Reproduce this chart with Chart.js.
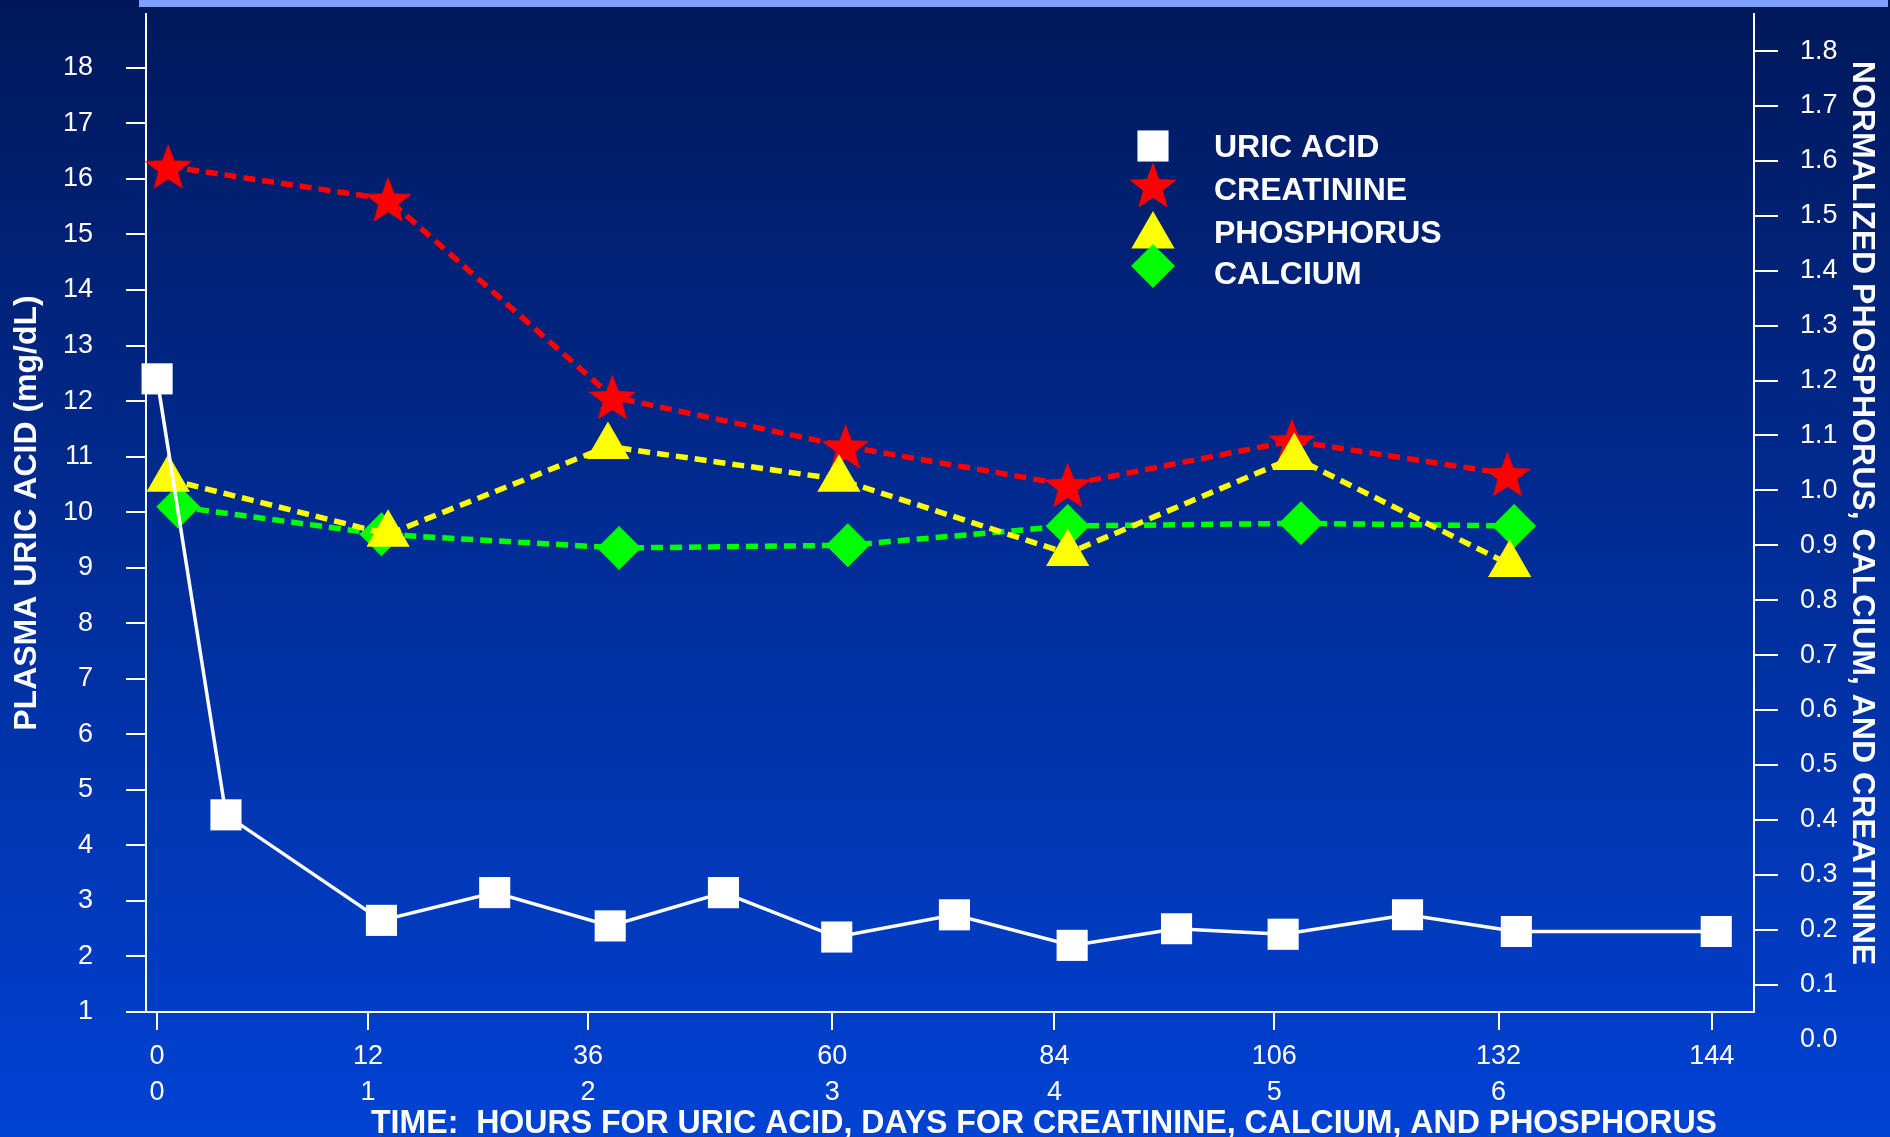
<!DOCTYPE html>
<html>
<head>
<meta charset="utf-8">
<title>Uric acid, creatinine, phosphorus and calcium over time</title>
<script src="https://cdn.jsdelivr.net/npm/chart.js@4.4.0/dist/chart.umd.min.js"></script>
<style>
    html, body { margin: 0; padding: 0; background: #00185a; }
    #wrap { width: 1890px; height: 1137px; }
</style>
</head>
<body>
<div id="wrap"><canvas id="chart" width="1890" height="1137"></canvas></div>
<script>
// x axis: tick slots, with hours on the first label row and days on the second
const xTickPos = [0, 0.95, 1.94, 3.04, 4.04, 5.03, 6.04, 7];
const hourLabels = ['0', '12', '36', '60', '84', '106', '132', '144'];
const dayLabels = ['0', '1', '2', '3', '4', '5', '6', ''];

const uricTicks = [1, 2, 3, 4, 5, 6, 7, 8, 9, 10, 11, 12, 13, 14, 15, 16, 17, 18];
const normTicks = [0, 0.1, 0.2, 0.3, 0.4, 0.5, 0.6, 0.7, 0.8, 0.9, 1.0, 1.1, 1.2, 1.3, 1.4, 1.5, 1.6, 1.7, 1.8];

// plasma uric acid, mg/dL (left axis)
const uricX = [0, 0.31, 1.01, 1.52, 2.04, 2.55, 3.06, 3.59, 4.12, 4.59, 5.07, 5.63, 6.12, 7.02];
const uricVals = [12.4, 4.55, 2.65, 3.15, 2.55, 3.15, 2.35, 2.75, 2.2, 2.5, 2.4, 2.75, 2.45, 2.45];

// normalized values (right axis)
const creatX = [0.05, 1.04, 2.05, 3.10, 4.10, 5.11, 6.08];
const creatVals = [1.59, 1.53, 1.17, 1.08, 1.01, 1.09, 1.03];

const phosX = [0.05, 1.04, 2.03, 3.07, 4.10, 5.12, 6.09];
const phosVals = [1.02, 0.92, 1.08, 1.02, 0.885, 1.06, 0.865];

const calcX = [0.095, 1.01, 2.08, 3.11, 4.10, 5.15, 6.11];
const calcVals = [0.97, 0.92, 0.895, 0.90, 0.935, 0.94, 0.935];

const FONT = '"Liberation Sans", Arial, sans-serif';

function toPoints(xs, ys) {
    return xs.map((x, i) => ({ x: x, y: ys[i] }));
}

// filled five-pointed star used as a point style
function starImage(size, color) {
    const c = document.createElement('canvas');
    c.width = size;
    c.height = size;
    const g = c.getContext('2d');
    const R = size / 2 - 1;
    const r = R * 0.42;
    const cx = size / 2;
    const cy = size / 2 + R * 0.095;
    g.beginPath();
    for (let i = 0; i < 10; i++) {
        const rad = i % 2 ? r : R;
        const a = -Math.PI / 2 + i * Math.PI / 5;
        g.lineTo(cx + rad * Math.cos(a), cy + rad * Math.sin(a));
    }
    g.closePath();
    g.fillStyle = color;
    g.fill();
    return c;
}

const redStar = starImage(52, '#ff0000');

const slideBackground = {
    id: 'slideBackground',
    beforeDraw(chart) {
        const { ctx, width, height } = chart;
        const grad = ctx.createLinearGradient(0, 0, 0, height);
        grad.addColorStop(0, '#00185a');
        grad.addColorStop(0.5, '#002d98');
        grad.addColorStop(1, '#0042d4');
        ctx.save();
        ctx.fillStyle = grad;
        ctx.fillRect(0, 0, width, height);
        ctx.fillStyle = '#80a0ff';
        ctx.fillRect(139, 0, width - 141, 7);
        ctx.restore();
    }
};

// legend drawn inside the plot, markers on the left, bold labels on the right
const markerLegend = {
    id: 'markerLegend',
    afterDraw(chart) {
        const { ctx } = chart;
        const markerY = [146, 185, 236, 266];
        const textY = [148, 191, 234, 275];
        ctx.save();
        chart.data.datasets.forEach((ds, i) => {
            ctx.fillStyle = ds.pointBackgroundColor;
            Chart.helpers.drawPoint(ctx, {
                pointStyle: ds.pointStyle,
                radius: ds.pointRadius,
                rotation: 0,
                borderWidth: 0
            }, 1153, markerY[i]);
            ctx.fillStyle = '#ffffff';
            ctx.font = 'bold 32px ' + FONT;
            ctx.textBaseline = 'middle';
            ctx.textAlign = 'left';
            ctx.fillText(ds.label, 1214, textY[i]);
        });
        ctx.restore();
    }
};

// condensed bold caption under the x axis
const timeCaption = {
    id: 'timeCaption',
    afterDraw(chart) {
        const { ctx } = chart;
        const text = 'TIME:  HOURS FOR URIC ACID, DAYS FOR CREATININE, CALCIUM, AND PHOSPHORUS';
        ctx.save();
        ctx.font = 'bold 34px ' + FONT;
        const w = ctx.measureText(text).width;
        ctx.translate(1044, 1133);
        ctx.scale(1346 / w, 1);
        ctx.textAlign = 'center';
        ctx.textBaseline = 'alphabetic';
        ctx.fillStyle = '#ffffff';
        ctx.fillText(text, 0, 0);
        ctx.restore();
    }
};

const chartCtx = document.getElementById('chart').getContext('2d');

new Chart(chartCtx, {
    type: 'line',
    data: {
        datasets: [{
            label: 'URIC ACID',
            data: toPoints(uricX, uricVals),
            yAxisID: 'y',
            order: 0,
            borderColor: '#ffffff',
            borderWidth: 3.5,
            pointStyle: 'rect',
            pointRadius: 22,
            pointBackgroundColor: '#ffffff',
            pointBorderWidth: 0,
            clip: false
        }, {
            label: 'CREATININE',
            data: toPoints(creatX, creatVals),
            yAxisID: 'y1',
            order: 3,
            borderColor: '#ff0000',
            borderWidth: 5.5,
            borderDash: [12, 7],
            pointStyle: redStar,
            pointRadius: 24,
            pointBackgroundColor: '#ff0000',
            pointBorderWidth: 0,
            clip: false
        }, {
            label: 'PHOSPHORUS',
            data: toPoints(phosX, phosVals),
            yAxisID: 'y1',
            order: 1,
            borderColor: '#ffff00',
            borderWidth: 5.5,
            borderDash: [12, 7],
            pointStyle: 'triangle',
            pointRadius: 25,
            pointBackgroundColor: '#ffff00',
            pointBorderWidth: 0,
            clip: false
        }, {
            label: 'CALCIUM',
            data: toPoints(calcX, calcVals),
            yAxisID: 'y1',
            order: 2,
            borderColor: '#00ff00',
            borderWidth: 5.5,
            borderDash: [12, 7],
            pointStyle: 'rectRot',
            pointRadius: 22,
            pointBackgroundColor: '#00ff00',
            pointBorderWidth: 0,
            clip: false
        }]
    },
    options: {
        responsive: false,
        animation: false,
        events: [],
        elements: {
            line: { tension: 0, fill: false, borderCapStyle: 'butt' }
        },
        layout: { autoPadding: false, padding: { top: 14, left: 0, right: 0, bottom: 0 } },
        plugins: {
            legend: { display: false },
            tooltip: { enabled: false }
        },
        scales: {
            x: {
                type: 'linear',
                min: -0.05,
                max: 7.19,
                afterBuildTicks: scale => {
                    scale.ticks = xTickPos.map(v => ({ value: v }));
                },
                afterFit: scale => {
                    scale.height = 125;
                    scale.paddingLeft = 0;
                    scale.paddingRight = 0;
                },
                ticks: {
                    autoSkip: false,
                    maxRotation: 0,
                    padding: 9,
                    color: '#ffffff',
                    font: { family: FONT, size: 27, lineHeight: 1.33 },
                    callback: (value, index) => [hourLabels[index], dayLabels[index]]
                },
                grid: { drawOnChartArea: false, tickLength: 18, color: '#ffffff', lineWidth: 2 },
                border: { color: '#ffffff', width: 2 }
            },
            y: {
                position: 'left',
                min: 1,
                max: 18.97,
                afterBuildTicks: scale => {
                    scale.ticks = uricTicks.map(v => ({ value: v }));
                },
                afterFit: scale => {
                    scale.width = 146;
                    scale.paddingTop = 0;
                    scale.paddingBottom = 0;
                },
                ticks: {
                    padding: 33,
                    color: '#ffffff',
                    font: { family: FONT, size: 27 }
                },
                grid: { drawOnChartArea: false, tickLength: 20, color: '#ffffff', lineWidth: 2 },
                border: { color: '#ffffff', width: 2 },
                title: {
                    display: true,
                    text: 'PLASMA URIC ACID (mg/dL)',
                    color: '#ffffff',
                    font: { family: FONT, size: 32, weight: 'bold' },
                    padding: { top: 8, bottom: 0 }
                }
            },
            y1: {
                position: 'right',
                min: 0.05,
                max: 1.8675,
                afterBuildTicks: scale => {
                    scale.ticks = normTicks.map(v => ({ value: v }));
                },
                afterFit: scale => {
                    scale.width = 136;
                    scale.paddingTop = 0;
                    scale.paddingBottom = 0;
                },
                ticks: {
                    autoSkip: false,
                    padding: 22,
                    color: '#ffffff',
                    font: { family: FONT, size: 27 },
                    callback: value => value.toFixed(1)
                },
                grid: {
                    drawOnChartArea: false,
                    tickLength: 24,
                    lineWidth: 2,
                    color: ctx => (ctx.tick && ctx.tick.value === 0) ? 'rgba(0,0,0,0)' : '#ffffff'
                },
                border: { color: '#ffffff', width: 2 },
                title: {
                    display: true,
                    text: 'NORMALIZED PHOSPHORUS, CALCIUM, AND CREATININE',
                    color: '#ffffff',
                    font: { family: FONT, size: 32, weight: 'bold' },
                    padding: { top: 9, bottom: 0 }
                }
            }
        }
    },
    plugins: [slideBackground, markerLegend, timeCaption]
});
</script>
</body>
</html>
